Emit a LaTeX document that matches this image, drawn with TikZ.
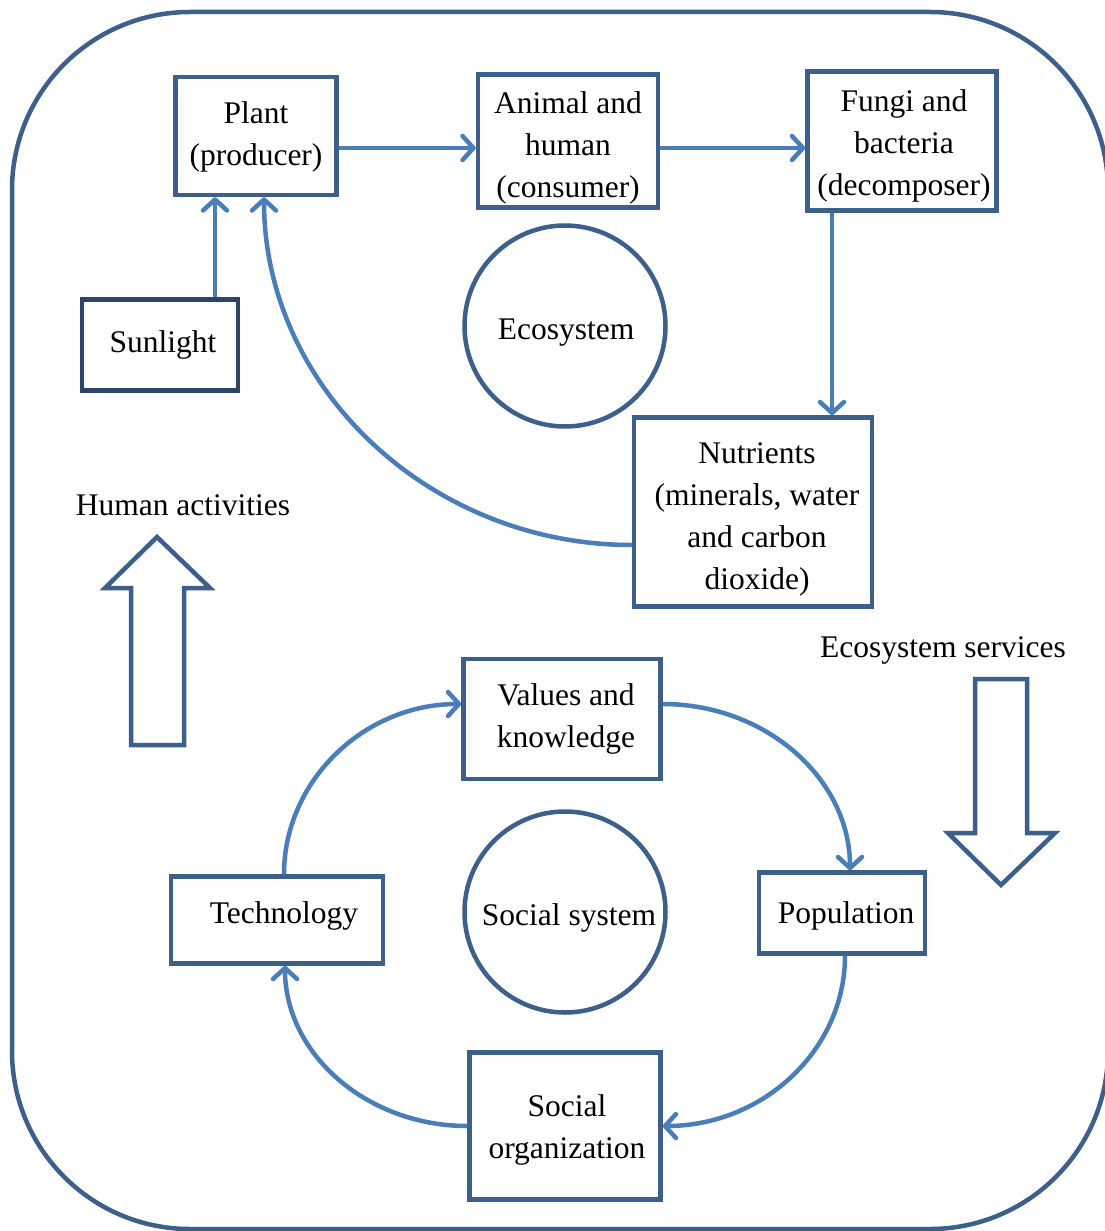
\documentclass[tikz,border=0pt]{standalone}
\usepackage{fontspec}
\setmainfont{Liberation Serif}
\usetikzlibrary{arrows.meta}
\definecolor{boxblue}{HTML}{3C5F8C}
\definecolor{darkbox}{HTML}{2C4568}
\definecolor{arrowblue}{HTML}{4A7EBB}
\begin{document}
\begin{tikzpicture}[x=1pt,y=-1pt,
  every node/.style={font=\fontsize{31.5}{42}\selectfont, text=black},
  box/.style={draw=boxblue, line width=4.5pt, fill=white, rectangle, inner sep=0pt},
  sunbox/.style={box, draw=darkbox},
  txt/.style={align=center, inner sep=0pt},
  rnd/.style={draw=boxblue, line width=4.5pt, circle, inner sep=0pt, minimum size=201pt},
  conn/.style={draw=arrowblue, line width=4.5pt, -{Straight Barb[length=11pt,width=24pt,round]}},
  outer/.style={draw=boxblue, line width=4.5pt},
  blockarrow/.style={draw=boxblue, line width=4.5pt, fill=white, line join=miter}
]
\useasboundingbox (0,0) rectangle (1104,1231);
\fill[white] (0,0) rectangle (1104,1231);
% outer frame
\draw[outer, rounded corners=178pt] (12,12) rectangle (1108,1229);

% ecosystem boxes
\node[box, minimum width=161pt, minimum height=118pt] (plant) at (256,136) {};
\node[box, minimum width=180pt, minimum height=133pt] (animal) at (568,141) {};
\node[box, minimum width=189pt, minimum height=139pt] (fungi) at (902,141) {};
\node[sunbox, minimum width=156pt, minimum height=91pt] (sun) at (160,345) {};
\node[rnd] (eco) at (565,326) {};
\node[box, minimum width=238pt, minimum height=189pt] (nut) at (753,512) {};

% social boxes
\node[box, minimum width=197pt, minimum height=120pt] (val) at (562,719) {};
\node[box, minimum width=212pt, minimum height=87pt] (tech) at (277,920) {};
\node[rnd] (soc) at (565,912) {};
\node[box, minimum width=166pt, minimum height=81pt] (pop) at (842,913) {};
\node[box, minimum width=191pt, minimum height=147pt] (org) at (565,1126) {};

% texts
\node[txt] (plant-t) at (256,137) {Plant\\(producer)};
\node[txt] (animal-t) at (568,148) {Animal and\\human\\(consumer)};
\node[txt] (fungi-t) at (904,146) {Fungi and\\bacteria\\(decomposer)};
\node[txt] (sun-t) at (163,345) {Sunlight};
\node[txt] (eco-t) at (566,333) {Ecosystem};
\node[txt] (nut-t) at (757,519) {Nutrients\\(minerals, water\\and carbon\\dioxide)};
\node[txt] (val-t) at (566,719) {Values and\\knowledge};
\node[txt] (tech-t) at (284,916) {Technology};
\node[txt] (soc-t) at (569,918) {Social system};
\node[txt] (pop-t) at (846,916) {Population};
\node[txt] (org-t) at (567,1130) {Social\\organization};
\node[txt] (hum) at (183,505) {Human activities};
\node[txt] (ess) at (943,650) {Ecosystem services};

% block arrows
\draw[blockarrow] (157,537) -- (210,588) -- (184,588) -- (184,745) -- (131,745) -- (131,588) -- (105,588) -- cycle;
\draw[blockarrow] (1001,885) -- (1055,833) -- (1027,833) -- (1027,679) -- (975,679) -- (975,833) -- (948,833) -- cycle;

% ecosystem connectors
\draw[conn] (plant.east |- 0,148) -- (animal.west |- 0,148);
\draw[conn] (animal.east |- 0,148) -- (fungi.west |- 0,148);
\draw[conn] (sun.north -| 215,0) -- (plant.south -| 215,0);
\draw[conn] (fungi.south -| 832,0) -- (nut.north -| 832,0);
\coordinate (nutl) at (nut.west |- 0,545);
\coordinate (plantb) at (plant.south -| 264,0);
\draw[conn] (nutl) .. controls (430,545) and (264,388) .. (plantb);

% social connectors
\coordinate (techt) at (tech.north -| 284,0);
\coordinate (vall) at (val.west |- 0,704);
\coordinate (valr) at (val.east |- 0,704);
\coordinate (popt) at (pop.north -| 850,0);
\coordinate (popb) at (pop.south -| 845,0);
\coordinate (orgr) at (org.east |- 0,1126);
\coordinate (orgl) at (org.west |- 0,1126);
\coordinate (techb) at (tech.south -| 285,0);
\draw[conn] (techt) .. controls (284,781) and (364,704) .. (vall);
\draw[conn] (valr) .. controls (766,704) and (850,779) .. (popt);
\draw[conn] (popb) .. controls (845,1050) and (763,1126) .. (orgr);
\draw[conn] (orgl) .. controls (367,1126) and (285,1054) .. (techb);
\end{tikzpicture}
\end{document}
